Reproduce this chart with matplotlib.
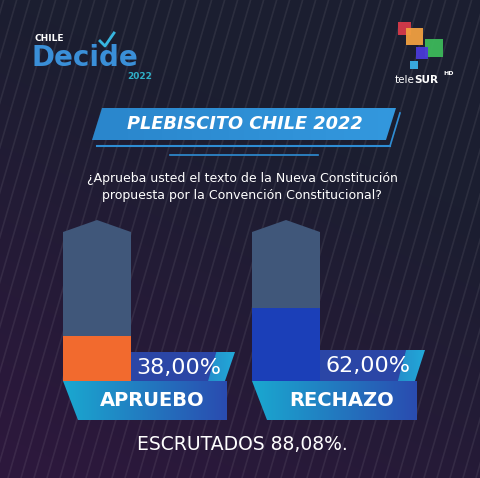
import numpy as np
import matplotlib.pyplot as plt
from matplotlib.patches import Polygon, Rectangle
from matplotlib.colors import LinearSegmentedColormap

# data
options = ["APRUEBO", "RECHAZO"]
percent = [38.00, 62.00]
percent_labels = ["38,00%", "62,00%"]
counted = "ESCRUTADOS 88,08%."
title = "PLEBISCITO CHILE 2022"
question = "¿Aprueba usted el texto de la Nueva Constitución\npropuesta por la Convención Constitucional?"
fill_colors = ["#f26a2e", "#1b3fb8"]

W, H = 481, 478
fig = plt.figure(figsize=(W / 100, H / 100), dpi=100)
ax = fig.add_axes([0, 0, 1, 1])
ax.set_xlim(0, W)
ax.set_ylim(H, 0)
ax.axis("off")

# background: navy with a purple tint at the bottom left
yy, xx = np.mgrid[0:H, 0:W]
t = np.clip((yy / H) * 1.1 - (xx / W) * 0.5, 0, 1)
top = np.array([0x1b, 0x1e, 0x30]) / 255
bot = np.array([0x2c, 0x18, 0x3c]) / 255
bg = top[None, None, :] * (1 - t[..., None]) + bot[None, None, :] * t[..., None]
ax.imshow(bg, extent=(0, W, H, 0), zorder=0, aspect="auto")

# diagonal stripes
for x0 in range(-200, W + 20, 13):
    ax.plot([x0, x0 + H * 0.29], [H, 0], color="white", alpha=0.07, lw=1.2, zorder=1)


def grad_poly(pts, c1, c2, z):
    poly = Polygon(pts, closed=True, facecolor="none", edgecolor="none", zorder=z)
    ax.add_patch(poly)
    cmap = LinearSegmentedColormap.from_list("g", [c1, c2])
    xs = [p[0] for p in pts]
    ys = [p[1] for p in pts]
    im = ax.imshow(np.linspace(0, 1, 100)[None, :], cmap=cmap, aspect="auto",
                   extent=(min(xs), max(xs), max(ys), min(ys)), zorder=z)
    im.set_clip_path(poly)


# logo "Chile Decide 2022"
ax.text(35, 38, "CHILE", color="white", fontsize=6.5, fontweight="bold",
        family="DejaVu Sans", va="center", zorder=5)
ax.text(31, 58, "Decide", color="#3a8fd8", fontsize=20, fontweight="bold",
        family="DejaVu Sans", va="center", zorder=5)
ax.plot([100, 105, 114], [41, 46, 33], color="#37b6e0", lw=2, zorder=6)
ax.text(152, 76, "2022", color="#2fb0c8", fontsize=6.5, fontweight="bold",
        family="DejaVu Sans", va="center", ha="right", zorder=5)

# teleSUR logo
for (x, y, s, c) in [(398, 22, 13, "#d63a4a"), (406, 28, 17, "#f0a040"),
                     (425, 39, 18, "#3cb85a"), (416, 47, 12, "#4a3ad8"),
                     (410, 61, 8, "#3ab0e8")]:
    ax.add_patch(Rectangle((x, y), s, s, facecolor=c, edgecolor="none", alpha=0.95, zorder=5))
ax.text(395, 80, "tele", color="white", fontsize=7.5, family="DejaVu Sans", va="center", zorder=5)
ax.text(414, 80, "SUR", color="white", fontsize=7.5, fontweight="bold", family="DejaVu Sans",
        va="center", zorder=5)
ax.text(443, 73, "HD", color="white", fontsize=4.5, fontweight="bold", family="DejaVu Sans",
        va="center", zorder=5)

# title banner
ax.plot([97, 390], [146, 146], color="#2e8dd4", lw=1.5, zorder=3)
ax.plot([390, 400], [146, 113], color="#2e8dd4", lw=1.2, zorder=3)
grad_poly([(92, 140), (386, 140), (396, 108), (102, 108)], "#2a86cc", "#3398de", 4)
ax.text(245, 124, title, color="white", fontsize=12.8, fontweight="bold", style="italic",
        family="DejaVu Sans", ha="center", va="center", zorder=5)
ax.plot([170, 318], [155, 155], color="#2e8dd4", lw=1.2, zorder=3)

ax.text(242, 187, question, color="white", fontsize=9, family="DejaVu Sans", ha="center",
        va="center", linespacing=1.35, zorder=5)

# bar geometry
centers = [97, 286]
bw = 68
base = 381

# grey backing bars with arrow tops
for cx in centers:
    l, r = cx - bw / 2, cx + bw / 2
    ax.add_patch(Polygon([(l, base), (l, 232), (cx, 220), (r, 232), (r, base)],
                         closed=True, facecolor="#40577a", edgecolor="none", zorder=3))

# filled bars in their own axes (percent scale)
bax = fig.add_axes([0, (H - base) / H, 1, 118 / H])
bax.set_xlim(0, W)
bax.set_ylim(0, 100)
bax.axis("off")
bax.patch.set_alpha(0)
bax.bar(centers, percent, width=bw, color=fill_colors, zorder=4)

# percentage boxes and name boxes
pct_right = [(235, 225), (425, 415)]
name_right = [227, 417]
for i, cx in enumerate(centers):
    l, r = cx - bw / 2, cx + bw / 2
    rt, rb = pct_right[i]
    ptop = 352 if i == 0 else 350
    grad_poly([(r, base), (r, ptop), (rt, ptop), (rb, base)], "#2b46a6", "#22a8d8", 4)
    ax.add_patch(Polygon([(r, base), (r, ptop), (r + 0.82 * (rt - r), ptop),
                          (r + 0.82 * (rb - r), base)], closed=True,
                         facecolor="#2b46a6", edgecolor="none", zorder=4))
    ax.text((r + rb) / 2 + 1, (ptop + base) / 2 + 1, percent_labels[i], color="white",
            fontsize=16, family="DejaVu Sans", ha="center", va="center", zorder=6)
    grad_poly([(l, base), (name_right[i], base), (name_right[i], 420), (l + 15, 420)],
              "#1aa8d0", "#2a4cb0", 4)
    ax.text((l + 15 + name_right[i]) / 2, 400, options[i], color="white", fontsize=14,
            fontweight="bold", family="DejaVu Sans", ha="center", va="center", zorder=6)

ax.text(242, 445, counted, color="white", fontsize=13.5, family="DejaVu Sans", ha="center",
        va="center", zorder=5)

fig.savefig("out.png", dpi=100)
